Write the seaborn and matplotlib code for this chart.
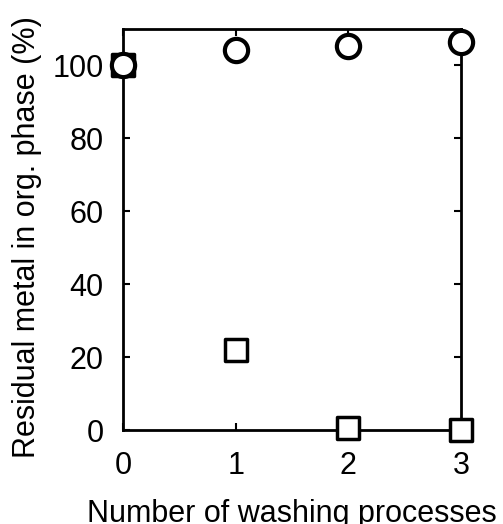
import matplotlib
matplotlib.use("Agg")
import matplotlib.pyplot as plt
import seaborn as sns
import pandas as pd

washes = [0, 1, 2, 3]
circle_vals = [100, 104.3, 105.2, 106.4]
square_vals = [100, 22, 0.6, 0]

sns.set_style("ticks")
plt.rcParams["font.family"] = ["Liberation Sans", "DejaVu Sans"]
plt.rcParams["text.color"] = "black"
plt.rcParams["axes.labelcolor"] = "black"
plt.rcParams["xtick.color"] = "black"
plt.rcParams["ytick.color"] = "black"

fig = plt.figure(figsize=(5.03, 5.24), dpi=100)
ax = fig.add_axes([123 / 503, 1 - 430 / 524, 338 / 503, 401 / 524])

sq = pd.DataFrame({"x": washes, "y": square_vals})
ci = pd.DataFrame({"x": washes, "y": circle_vals})

# the first square looks solid in the original
sns.scatterplot(data=sq.iloc[:1], x="x", y="y", marker="s", s=230, color="black",
                edgecolor="black", linewidth=2.5, ax=ax, zorder=3, clip_on=False)
sns.scatterplot(data=sq.iloc[1:], x="x", y="y", marker="s", s=230, color="white",
                edgecolor="black", linewidth=2.5, ax=ax, zorder=3, clip_on=False)
sns.scatterplot(data=ci, x="x", y="y", marker="o", s=280, color="white",
                edgecolor="black", linewidth=3, ax=ax, zorder=4, clip_on=False)

ax.set_xlim(0, 3)
ax.set_ylim(0, 110)
ax.set_xticks([0, 1, 2, 3])
ax.set_yticks([0, 20, 40, 60, 80, 100])
ax.tick_params(axis="x", pad=15)
ax.tick_params(axis="y", pad=14)
ax.tick_params(direction="in", length=5, width=1.5, labelsize=22,
               top=True, right=True, color="black", labelcolor="black")
for sp in ax.spines.values():
    sp.set_linewidth(2)
    sp.set_color("black")

ax.set_xlabel("Number of washing processes", fontsize=22, labelpad=13)
ax.set_ylabel("Residual metal in org. phase (%)", fontsize=22)
ax.yaxis.set_label_coords(-0.24, 0.48)

fig.savefig("out.png", dpi=100)
